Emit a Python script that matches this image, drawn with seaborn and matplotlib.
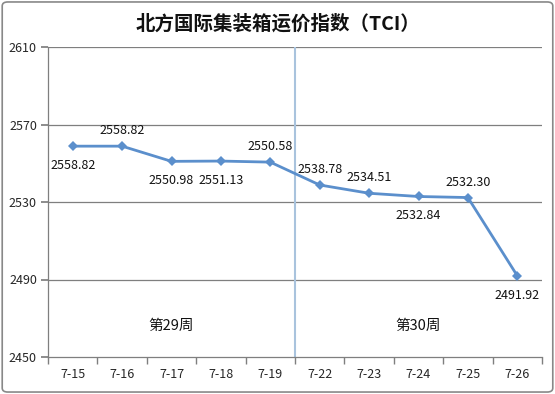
import matplotlib
matplotlib.use("Agg")
import matplotlib.pyplot as plt
import seaborn as sns
import pandas as pd
from matplotlib.patches import FancyBboxPatch

dates = ["7-15", "7-16", "7-17", "7-18", "7-19", "7-22", "7-23", "7-24", "7-25", "7-26"]
values = [2558.82, 2558.82, 2550.98, 2551.13, 2550.58, 2538.78, 2534.51, 2532.84, 2532.30, 2491.92]
label_pos = ["below", "above", "below", "below", "above", "above", "above", "below", "above", "below"]
weeks = ["第29周", "第30周"]
yticks = [2450, 2490, 2530, 2570, 2610]
title = "北方国际集装箱运价指数（TCI）"

sns.set_theme(style="white")
plt.rcParams['font.family'] = ['Noto Sans CJK SC', 'DejaVu Sans']

df = pd.DataFrame({"x": range(len(dates)), "value": values})

fig = plt.figure(figsize=(5.55, 3.94), dpi=100)
ax = fig.add_axes([48/555, 1-357/394, (542-48)/555, (357-47)/394])

for y in yticks[1:]:
    ax.axhline(y, color="#7f7f7f", lw=0.9, zorder=1)
ax.axvline(4.5, color="#a9c3dd", lw=1.5, zorder=1)

sns.lineplot(data=df, x="x", y="value", ax=ax, color="#5b8fcc", lw=2,
             marker="D", markersize=5, markeredgewidth=0, zorder=3)

for i, (v, p) in enumerate(zip(values, label_pos)):
    off = 11 if p == "above" else -14
    ax.annotate(f"{v:.2f}", (i, v), xytext=(0, off), textcoords="offset points",
                ha="center", va="center", fontsize=9, color="#111111")

ax.text(2, 2466, weeks[0], ha="center", va="center", fontsize=10.5, color="#111111")
ax.text(7, 2466, weeks[1], ha="center", va="center", fontsize=10.5, color="#111111")

ax.set_xlim(-0.5, len(dates) - 0.5)
ax.set_ylim(yticks[0], yticks[-1])
ax.set_yticks(yticks)
ax.set_yticklabels([str(t) for t in yticks], fontsize=9)
ax.set_xticks(range(len(dates)))
ax.set_xticklabels(dates, fontsize=9)
ax.set_xticks([i - 0.5 for i in range(len(dates) + 1)], minor=True)
ax.tick_params(axis="x", which="major", length=0, pad=8)
ax.tick_params(axis="x", which="minor", length=5, color="#7f7f7f", direction="out", bottom=True)
ax.tick_params(axis="y", length=5, color="#7f7f7f", direction="out", left=True, pad=3)
ax.set_xlabel("")
ax.set_ylabel("")
for s in ["top", "right"]:
    ax.spines[s].set_visible(False)
for s in ["left", "bottom"]:
    ax.spines[s].set_color("#7f7f7f")
    ax.spines[s].set_linewidth(0.9)

fig.text(0.5, 1-24/394, title, ha="center", va="center", fontsize=14, fontweight="bold", color="#111111")

border = FancyBboxPatch((0.004, 0.005), 0.992, 0.99, boxstyle="round,pad=0,rounding_size=0.01",
                        transform=fig.transFigure, fill=False, ec="#888888", lw=1.2)
fig.patches.append(border)

fig.savefig("out.png", dpi=100)
